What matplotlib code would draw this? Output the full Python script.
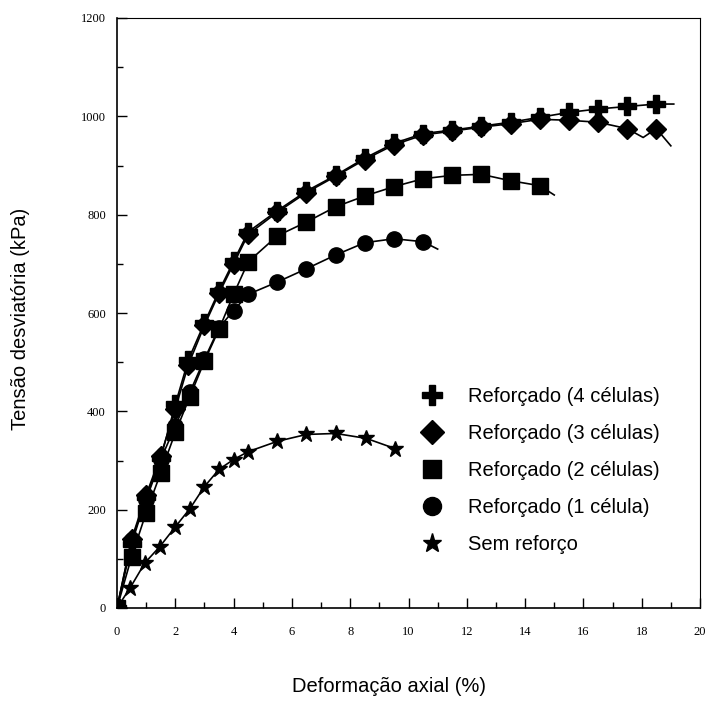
import matplotlib
matplotlib.use("Agg")
import matplotlib.pyplot as plt
from matplotlib.lines import Line2D
from matplotlib.ticker import MultipleLocator
import numpy as np

# ---- data ----
x_4 = [0, 0.5, 1, 1.5, 2, 2.45, 3, 3.5, 4, 4.5, 5.5, 6.5, 7.5, 8.5, 9.5, 10.5,
       11.5, 12.5, 13.5, 14.5, 15.5, 16.5, 17.5, 18.5]
y_4 = [0, 130, 225, 305, 414, 505, 580, 645, 705, 765, 808, 848, 880, 915, 945,
       965, 972, 980, 988, 998, 1008, 1015, 1020, 1025]
tail_x_4 = [19.1]
tail_y_4 = [1025]

x_3 = [0, 0.5, 1, 1.5, 2, 2.45, 3, 3.5, 4, 4.5, 5.5, 6.5, 7.5, 8.5, 9.5, 10.5,
       11.5, 12.5, 13.5, 14.5, 15.5, 16.5, 17.5, 18.5]
y_3 = [0, 140, 230, 310, 405, 495, 575, 640, 700, 760, 805, 845, 878, 912, 942,
       962, 970, 978, 985, 994, 992, 988, 975, 975]
tail_x_3 = [18.05, 19.0]
tail_y_3 = [957, 940]

x_2 = [0, 0.5, 1, 1.5, 2, 2.5, 3, 3.5, 4, 4.5, 5.5, 6.5, 7.5, 8.5, 9.5, 10.5,
       11.5, 12.5, 13.5, 14.5]
y_2 = [0, 104, 194, 275, 357, 430, 502, 567, 638, 704, 757, 785, 816, 838, 857,
       873, 880, 882, 869, 859]
tail_x_2 = [15.0]
tail_y_2 = [840]

x_1 = [0, 0.5, 1, 1.5, 2, 2.5, 3, 3.5, 4, 4.5, 5.5, 6.5, 7.5, 8.5, 9.5, 10.5]
y_1 = [0, 139, 220, 302, 370, 439, 506, 570, 605, 638, 663, 690, 718, 743, 751, 745]
tail_x_1 = [11.0]
tail_y_1 = [730]

x_0 = [0, 0.45, 0.96, 1.47, 2.0, 2.5, 3.0, 3.5, 4.0, 4.5, 5.5, 6.5, 7.5, 8.55, 9.55]
y_0 = [0, 41, 92, 125, 165, 202, 247, 282, 302, 318, 339, 353, 355, 345, 324]

labels = ["Reforçado (4 células)", "Reforçado (3 células)",
          "Reforçado (2 células)", "Reforçado (1 célula)", "Sem reforço"]
x_ticks = [0, 2, 4, 6, 8, 10, 12, 14, 16, 18, 20]
y_ticks = [0, 200, 400, 600, 800, 1000, 1200]

fig = plt.figure(figsize=(7.05, 7.02), dpi=100)
ax = fig.add_axes([117/705, 1-608/702, 583/705, 590/702])

def merged(xm, ym, xt, yt):
    xs = list(xm) + list(xt)
    ys = list(ym) + list(yt)
    order = np.argsort(xs, kind="stable")
    return [xs[i] for i in order], [ys[i] for i in order]

series = [
    (x_4, y_4, tail_x_4, tail_y_4, "P", 13),
    (x_3, y_3, tail_x_3, tail_y_3, "D", 10),
    (x_2, y_2, tail_x_2, tail_y_2, "s", 11),
    (x_1, y_1, tail_x_1, tail_y_1, "o", 11),
    (x_0, y_0, [], [], "*", 12),
]
for xm, ym, xt, yt, mk, ms in series:
    lx, ly = merged(xm, ym, xt, yt)
    ax.plot(lx, ly, color="black", lw=1.2, zorder=2)
    ax.plot(xm, ym, ls="none", marker=mk, ms=ms, color="black",
            mec="black", zorder=3)

ax.set_xlim(0, 20)
ax.set_ylim(0, 1200)
ax.set_xticks(x_ticks)
ax.set_yticks(y_ticks)
ax.xaxis.set_minor_locator(MultipleLocator(1))
ax.yaxis.set_minor_locator(MultipleLocator(100))
ax.tick_params(which="major", direction="in", length=7, width=1,
               labelsize=9)
ax.tick_params(axis="x", which="major", pad=13)
ax.tick_params(axis="y", which="major", pad=8)
ax.tick_params(which="minor", direction="in", length=4, width=1)
for lab in ax.get_xticklabels() + ax.get_yticklabels():
    lab.set_family("Liberation Serif")
for side in ["left", "bottom"]:
    ax.spines[side].set_linewidth(1.2)
for side in ["top", "right"]:
    ax.spines[side].set_linewidth(0.8)

ax.set_xlabel("Deformação axial (%)", fontsize=14.5, family="Liberation Sans")
ax.xaxis.set_label_coords(0.467, -0.117)
ax.set_ylabel("Tensão desviatória (kPa)", fontsize=14.5, family="Liberation Sans")
ax.yaxis.set_label_coords(-0.15, 0.49)

handles = [Line2D([], [], ls="none", marker=s[4], ms=s[5] + 2, color="black")
           for s in series]
leg = ax.legend(handles, labels, loc="upper left",
                bbox_to_anchor=(0.523, 0.374), frameon=False,
                prop={"family": "Liberation Sans", "size": 14.5},
                handlelength=1.0, handletextpad=1.3, labelspacing=0.89,
                borderpad=0, borderaxespad=0)

fig.savefig("out.png", dpi=100)
